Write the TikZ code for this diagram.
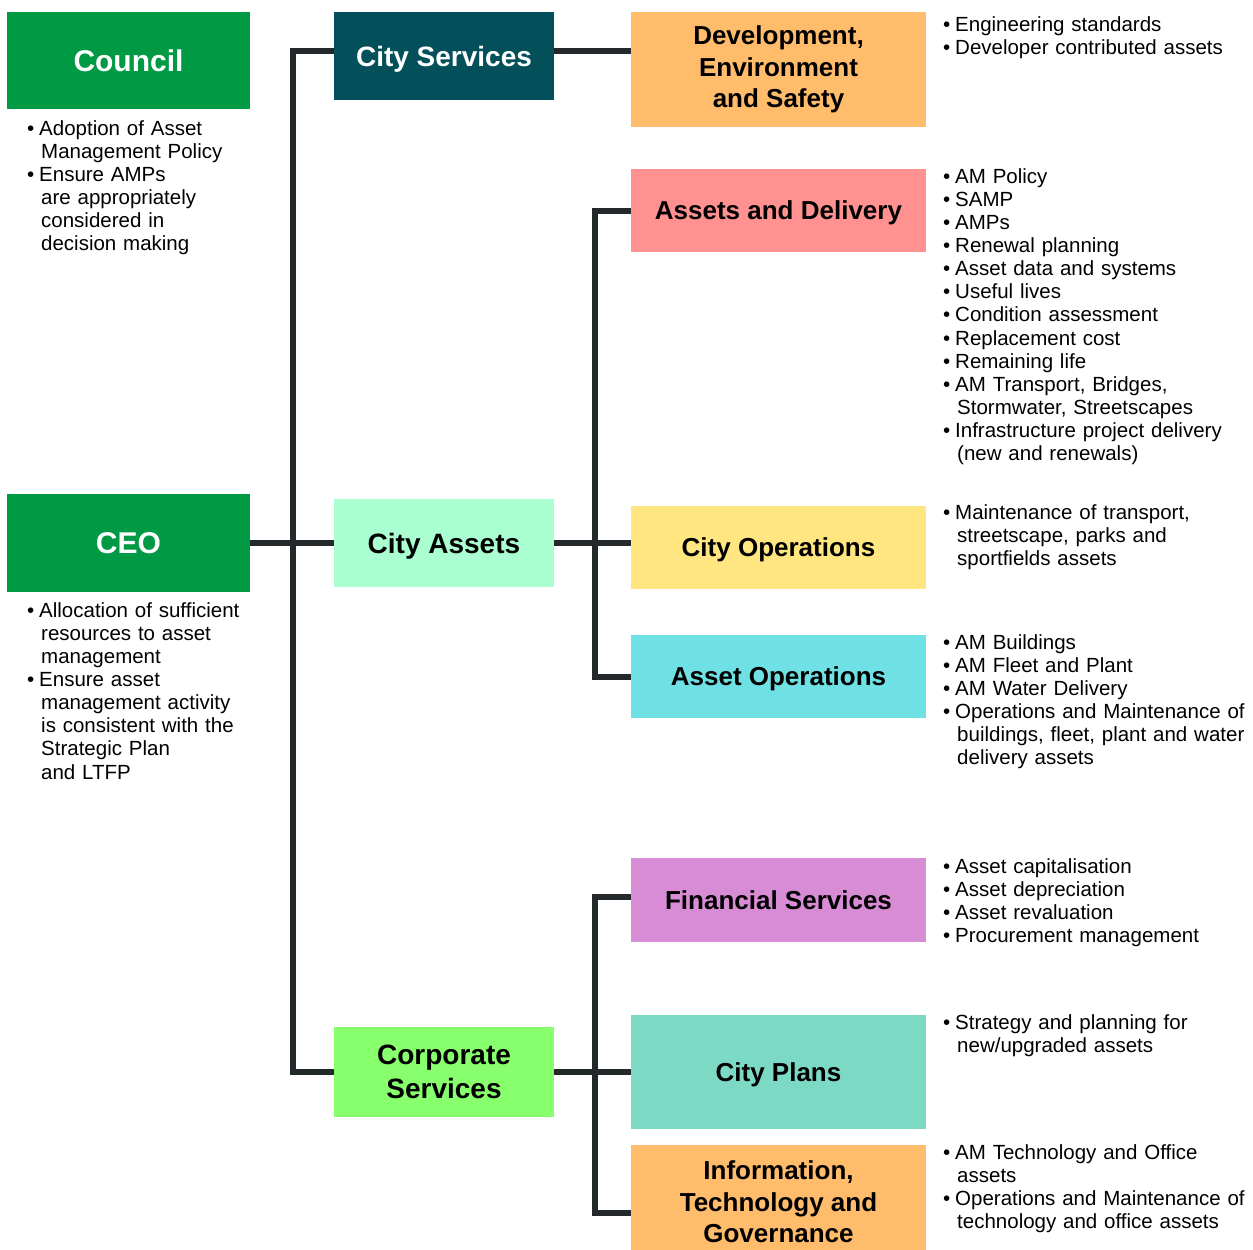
\documentclass[tikz,border=0pt]{standalone}
\usepackage{fontspec}
\setmainfont{Liberation Sans}
\definecolor{cgreen}{HTML}{009944}
\definecolor{cteal}{HTML}{03505A}
\definecolor{cmint}{HTML}{AAFFD0}
\definecolor{clime}{HTML}{88FF6C}
\definecolor{corange}{HTML}{FFBC6B}
\definecolor{cpink}{HTML}{FF9191}
\definecolor{cyellow}{HTML}{FFE680}
\definecolor{ccyan}{HTML}{6FE1E4}
\definecolor{cviolet}{HTML}{D98CD6}
\definecolor{cseafoam}{HTML}{7CD9C4}
\definecolor{cline}{HTML}{23282A}
\newcommand\bitem[1]{\par\hangindent=14pt\hangafter=1\noindent\strut\makebox[12pt][l]{•}#1\par}
\begin{document}
\begin{tikzpicture}[x=1pt,y=-1pt,
  box/.style={rectangle,inner sep=0pt,align=center,font=\bfseries},
  oneline/.style={text depth=0pt},
  topbox/.style={box,oneline,minimum width=243pt,text=white,fill=cgreen,font=\fontsize{30}{34}\selectfont\bfseries},
  midbox/.style={box,minimum width=220pt,font=\fontsize{28}{34}\selectfont\bfseries},
  subbox/.style={box,minimum width=295pt,font=\fontsize{26}{31.5}\selectfont\bfseries},
  blist/.style={anchor=north west,inner sep=0pt,text width=320pt,font=\fontsize{20.5}{23.1}\selectfont},
  conn/.style={draw=cline,line width=6pt,line join=miter}]
\useasboundingbox (0,0) rectangle (1253,1250);
% level 0
\node[topbox,minimum height=97pt] (council) at (128.5,60.5) {Council};
\node[topbox,minimum height=98pt] (ceo) at (128.5,543) {CEO};
% level 1
\node[midbox,oneline,minimum height=88pt,fill=cteal,text=white] (cs) at (444,56) {City Services};
\node[midbox,oneline,minimum height=88pt,fill=cmint] (ca) at (444,543) {City Assets};
\node[midbox,minimum height=90pt,fill=clime] (corp) at (444,1072) {Corporate\\Services};
% level 2
\node[subbox,minimum height=115pt,fill=corange] (dev) at (778.5,69.5) {Development,\\Environment\\and Safety};
\node[subbox,oneline,minimum height=83pt,fill=cpink] (ad) at (778.5,210.5) {Assets and Delivery};
\node[subbox,oneline,minimum height=83pt,fill=cyellow] (cop) at (778.5,547.5) {City Operations};
\node[subbox,oneline,minimum height=83pt,fill=ccyan] (aop) at (778.5,676.5) {Asset Operations};
\node[subbox,oneline,minimum height=84pt,fill=cviolet] (fin) at (778.5,900) {Financial Services};
\node[subbox,oneline,minimum height=114pt,fill=cseafoam] (cp) at (778.5,1072) {City Plans};
\node[subbox,minimum height=114pt,fill=corange] (it) at (778.5,1202) {Information,\\Technology and\\Governance};
% connectors
\coordinate (tl) at (293,51);
\coordinate (rt) at (595,210.5);
\draw[conn] (cs.west|-tl) -- (tl) -- (tl|-corp.west) -- (corp.west);
\draw[conn] (ceo.east) -- (ca.west);
\draw[conn] (cs.east|-tl) -- (dev.west|-tl);
\draw[conn] (ad.west) -- (ad.west-|rt) -- (aop.west-|rt) -- (aop.west);
\draw[conn] (ca.east) -- (ca.east-|cop.west);
\draw[conn] ([yshift=3pt]fin.west) -- ([yshift=3pt]fin.west-|rt) -- ([yshift=-11pt]it.west-|rt) -- ([yshift=-11pt]it.west);
\draw[conn] (corp.east) -- (corp.east-|cp.west);
% bullet lists
\node[blist] (lcouncil) at (27,112) {\bitem{Adoption of Asset\newline Management Policy}\bitem{Ensure AMPs\newline are appropriately\newline considered in\newline decision making}};
\node[blist] (lceo) at (27,594) {\bitem{Allocation of sufficient\newline resources to asset\newline management}\bitem{Ensure asset\newline management activity\newline is consistent with the\newline Strategic Plan\newline and LTFP}};
\node[blist] (ldev) at (943,8) {\bitem{Engineering standards}\bitem{Developer contributed assets}};
\node[blist] (lad) at (943,160) {\bitem{AM Policy}\bitem{SAMP}\bitem{AMPs}\bitem{Renewal planning}\bitem{Asset data and systems}\bitem{Useful lives}\bitem{Condition assessment}\bitem{Replacement cost}\bitem{Remaining life}\bitem{AM Transport, Bridges,\newline Stormwater, Streetscapes}\bitem{Infrastructure project delivery\newline (new and renewals)}};
\node[blist] (lcop) at (943,496) {\bitem{Maintenance of transport,\newline streetscape, parks and\newline sportfields assets}};
\node[blist] (laop) at (943,626) {\bitem{AM Buildings}\bitem{AM Fleet and Plant}\bitem{AM Water Delivery}\bitem{Operations and Maintenance of\newline buildings, fleet, plant and water\newline delivery assets}};
\node[blist] (lfin) at (943,850) {\bitem{Asset capitalisation}\bitem{Asset depreciation}\bitem{Asset revaluation}\bitem{Procurement management}};
\node[blist] (lcp) at (943,1006) {\bitem{Strategy and planning for\newline new/upgraded assets}};
\node[blist] (lit) at (943,1136) {\bitem{AM Technology and Office\newline assets}\bitem{Operations and Maintenance of\newline technology and office assets}};
\end{tikzpicture}
\end{document}
